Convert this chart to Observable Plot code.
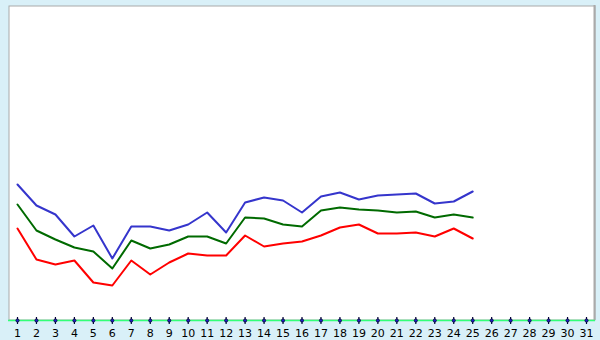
<!DOCTYPE html>
<html>
<head>
<meta charset="utf-8">
<script src="https://cdn.jsdelivr.net/npm/d3@7"></script>
<script src="https://cdn.jsdelivr.net/npm/@observablehq/plot@0.6"></script>
<style>
  html, body { margin: 0; padding: 0; background: #d9f0f8; }
  #chart { width: 600px; height: 340px; }
  svg { display: block; }
</style>
</head>
<body>
<div id="chart"></div>
<script>
const tickLabels = [1,2,3,4,5,6,7,8,9,10,11,12,13,14,15,16,17,18,19,20,21,22,23,24,25,26,27,28,29,30,31];
const days = [1,2,3,4,5,6,7,8,9,10,11,12,13,14,15,16,17,18,19,20,21,22,23,24,25];
const blueValues  = [136,115,106,84,95,62,94,94,90,96,108,88,118,123,120,108,124,128,121,125,126,127,117,119,129];
const greenValues = [116,90,81,73,69,52,80,72,76,84,84,77,103,102,96,94,110,113,111,110,108,109,103,106,103];
const redValues   = [92,61,56,60,38,35,60,46,58,67,65,65,85,74,77,79,85,93,96,87,87,88,84,92,82];

const seriesColors = ["#3535cc", "#006a00", "#ff0000"];
const allValues = [blueValues, greenValues, redValues];

const lineMarks = allValues.map((vals, si) =>
  Plot.line(days.map((d, i) => ({day: d, value: vals[i]})),
    {x: "day", y: "value", stroke: seriesColors[si], strokeWidth: 2, curve: "linear"})
);

const chart = Plot.plot({
  width: 600,
  height: 340,
  marginLeft: 8,
  marginRight: 5,
  marginTop: 5,
  marginBottom: 20,
  style: {background: "transparent", fontFamily: "DejaVu Sans, Verdana, sans-serif", fontSize: "11px", color: "#000"},
  x: {domain: [0.5255, 31.4745], axis: null, label: null},
  y: {domain: [0, 315], axis: null, label: null},
  marks: [
    Plot.frame({fill: "white", stroke: "#aaaaaa", strokeWidth: 1, inset: 0.5}),
    Plot.ruleX([31.4745], {stroke: "#aaaaaa", strokeWidth: 2, dx: -1}),
    Plot.axisX(tickLabels, {label: null, tickSize: 4, tickPadding: 5, stroke: "#000033", strokeWidth: 1.2, fill: "#000", fontSize: 11}),
    Plot.ruleX(tickLabels, {x: d => d, y1: 0, y2: 3, stroke: "#000033", strokeWidth: 1.2}),
    Plot.ruleY([0], {stroke: "#33ff77", strokeWidth: 1.5}),
    Plot.dot(tickLabels, {x: d => d, y: 0, r: 1.6, fill: "#2020cc", stroke: "#000033", strokeWidth: 0.8}),
    ...lineMarks
  ]
});
document.getElementById("chart").appendChild(chart);
</script>
</body>
</html>
